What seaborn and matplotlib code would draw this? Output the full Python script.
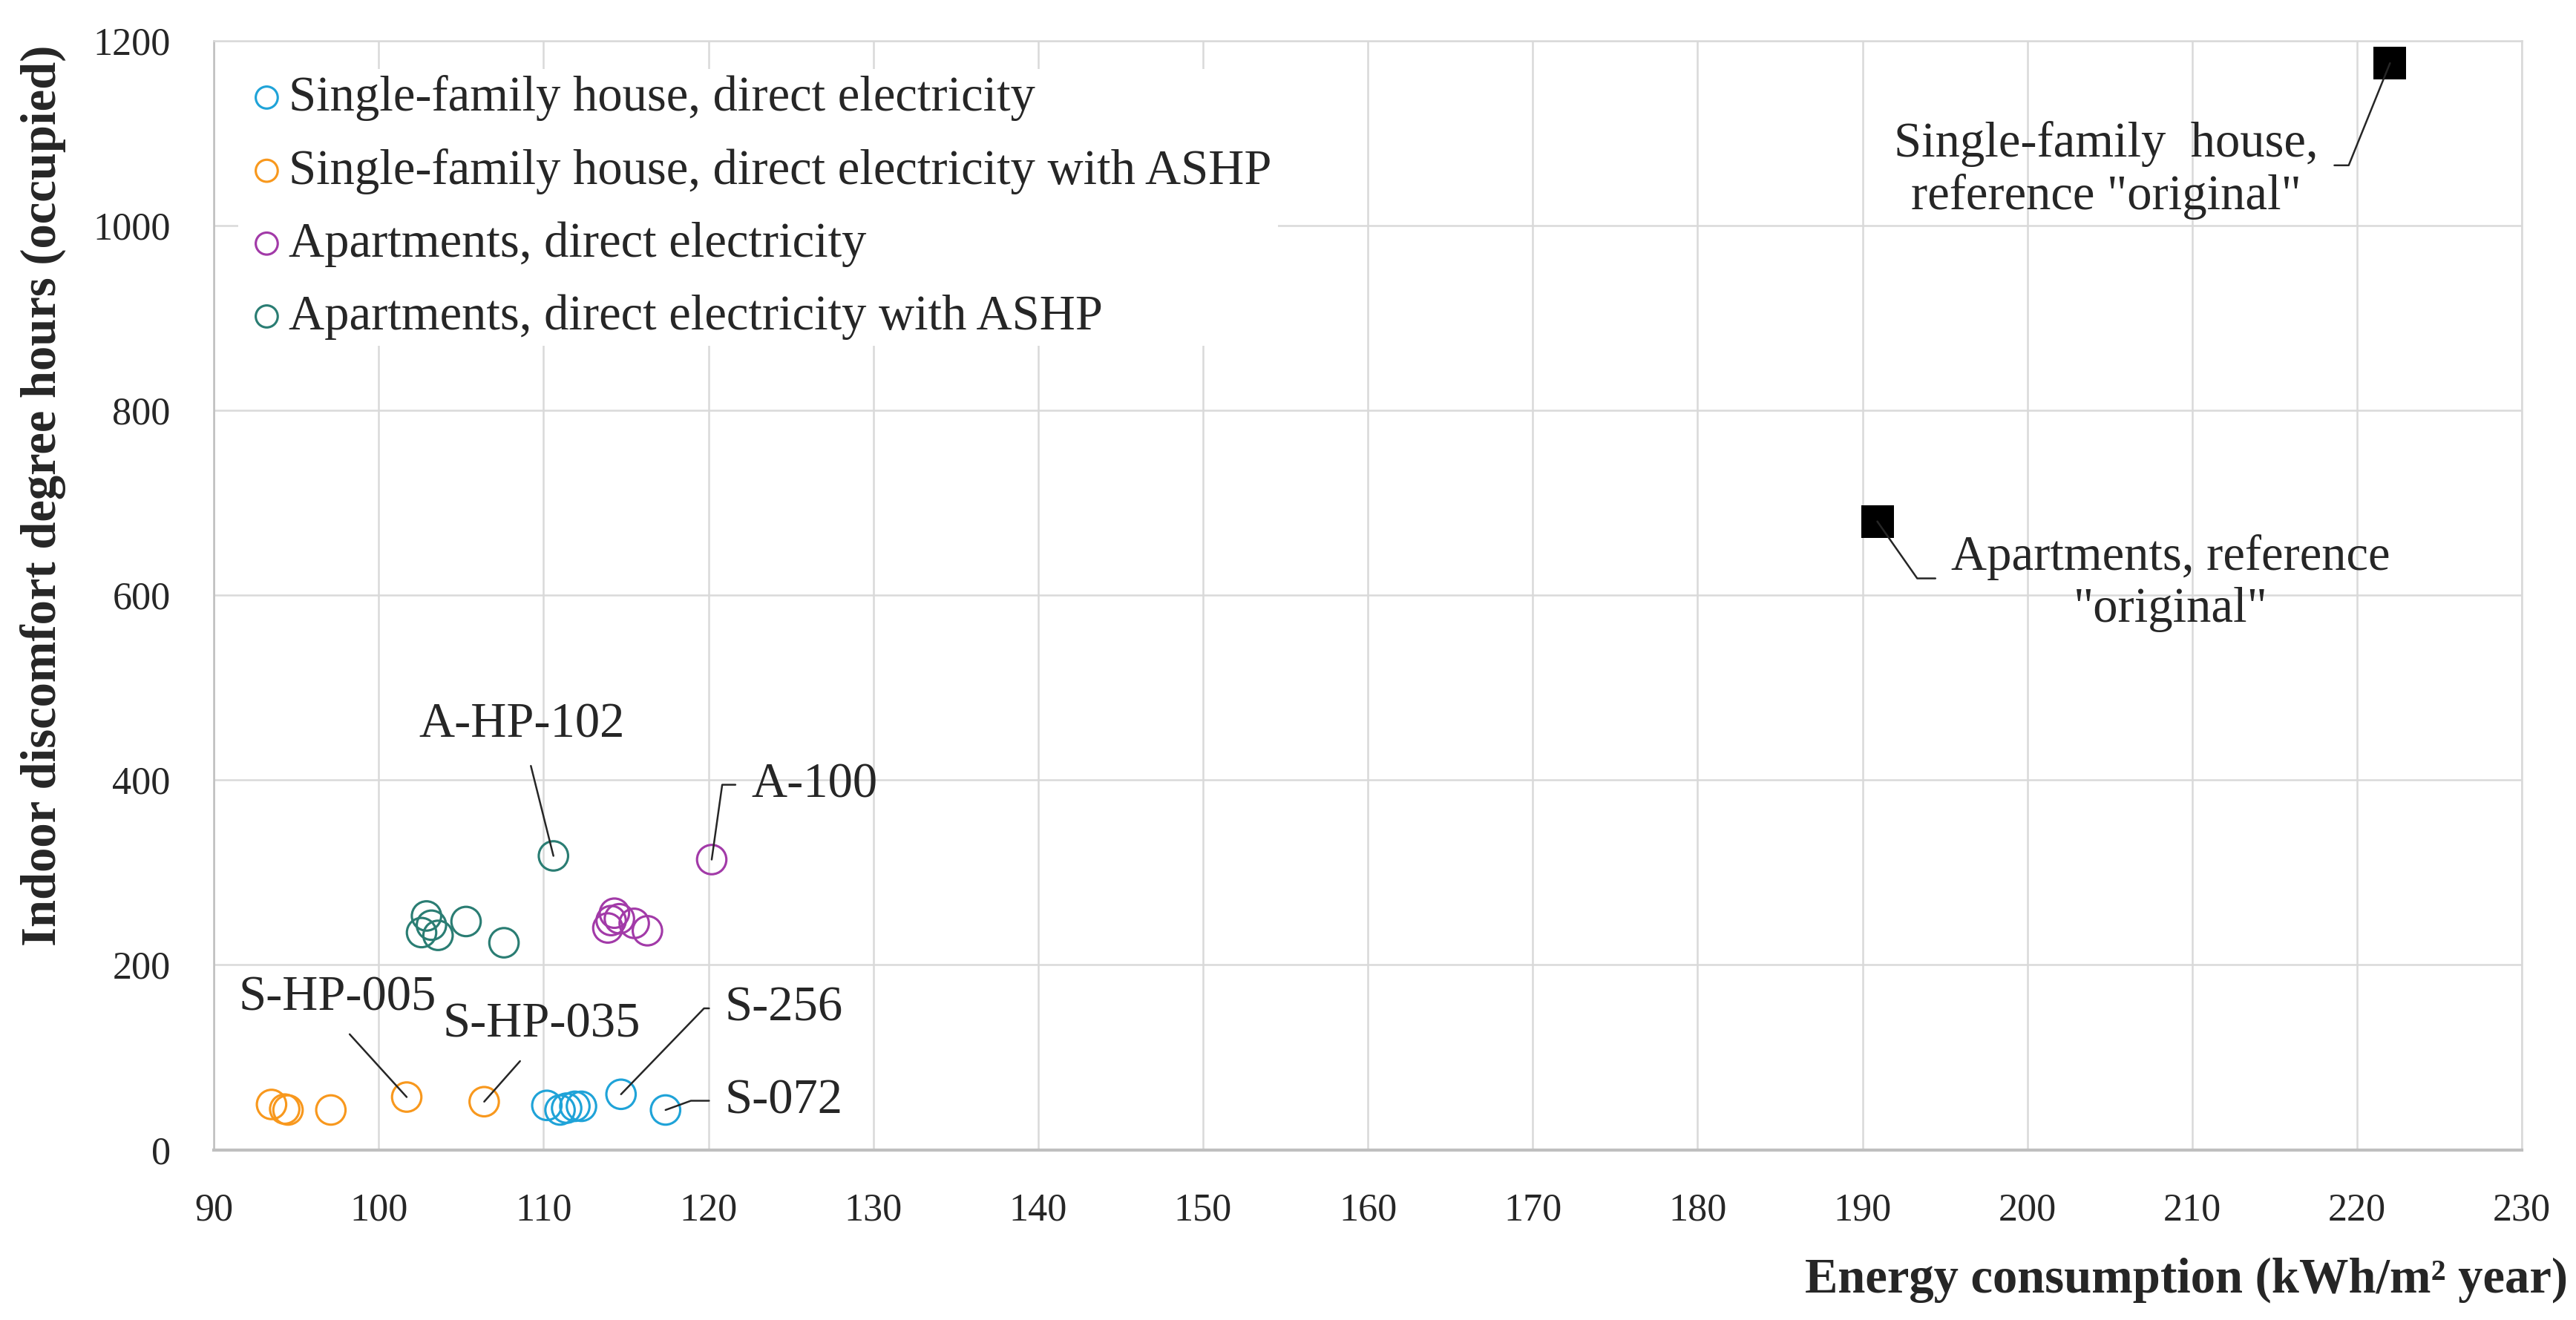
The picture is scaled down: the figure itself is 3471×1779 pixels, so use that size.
import pandas as pd
import seaborn as sns
import matplotlib.pyplot as plt

# ---------------------------------------------------------
# Data
# ---------------------------------------------------------
sf_direct_x = [110.2, 111.0, 111.4, 111.9, 112.3, 114.7, 117.4]
sf_direct_y = [48, 43, 45, 47, 47, 60, 43]

sf_ashp_x = [93.5, 94.3, 94.5, 97.1, 101.7, 106.4]
sf_ashp_y = [49, 44, 43, 43, 57, 52]

ap_direct_x = [113.9, 114.1, 114.3, 114.6, 115.5, 116.3, 120.2]
ap_direct_y = [240, 248, 256, 250, 245, 237, 314]

ap_ashp_x = [102.6, 102.9, 103.2, 103.6, 105.3, 107.6, 110.6]
ap_ashp_y = [235, 253, 243, 232, 247, 224, 318]

ref_x = [222.0, 190.9]
ref_y = [1176, 680]

series_names = [
    "Single-family house, direct electricity",
    "Single-family house, direct electricity with ASHP",
    "Apartments, direct electricity",
    "Apartments, direct electricity with ASHP",
]
series_colors = ["#1fa3d8", "#f8981d", "#a23aa8", "#2a7d73"]

x_ticks = list(range(90, 231, 10))
y_ticks = list(range(0, 1201, 200))

# ---------------------------------------------------------
# Figure
# ---------------------------------------------------------
sns.set_style("white")
plt.rcParams["font.family"] = ["Liberation Serif", "DejaVu Serif"]

fig = plt.figure(figsize=(3471 / 300, 1779 / 300), dpi=300)
ax = fig.add_axes([0.083, 0.129, 0.896, 0.840])

groups = [
    (sf_direct_x, sf_direct_y),
    (sf_ashp_x, sf_ashp_y),
    (ap_direct_x, ap_direct_y),
    (ap_ashp_x, ap_ashp_y),
]
for (gx, gy), name, col in zip(groups, series_names, series_colors):
    df = pd.DataFrame({"x": gx, "y": gy})
    sns.scatterplot(data=df, x="x", y="y", ax=ax, color=col, facecolor="none",
                    edgecolor=col, s=90, linewidth=0.75, marker="o", label=name,
                    zorder=3)

ref_df = pd.DataFrame({"x": ref_x, "y": ref_y})
sns.scatterplot(data=ref_df, x="x", y="y", ax=ax, color="black", marker="s",
                s=115, linewidth=0, legend=False, zorder=3)

ax.set_xlim(90, 230)
ax.set_ylim(0, 1200)
ax.set_xticks(x_ticks)
ax.set_yticks(y_ticks)
ax.grid(True, color="#d9d9d9", linewidth=0.6)
ax.tick_params(axis="both", length=0, pad=14, labelsize=12.5, colors="#262626")
for side, sp in ax.spines.items():
    sp.set_color("#d9d9d9")
    sp.set_linewidth(0.6)
ax.spines["bottom"].set_color("#bfbfbf")
ax.spines["bottom"].set_linewidth(1.0)
ax.spines["left"].set_color("#bfbfbf")

ax.set_xlabel("Energy consumption (kWh/m² year)", fontsize=16,
              fontweight="bold", loc="right")
ax.xaxis.set_label_coords(1.02, -0.097)
ax.set_ylabel("Indoor discomfort degree hours (occupied)", fontsize=16,
              fontweight="bold")
ax.yaxis.set_label_coords(-0.064, 0.59)

leg = ax.legend(loc="upper left", bbox_to_anchor=(0.0, 0.997), fontsize=16,
                frameon=True, framealpha=1, facecolor="white", edgecolor="none",
                handletextpad=0.0, handlelength=0.9, labelspacing=0.55,
                markerscale=0.75, borderpad=0.12)

# ---------------------------------------------------------
# Leader-line labels
# ---------------------------------------------------------
line_kw = dict(arrowstyle="-", color="#262626", lw=0.6, shrinkB=0)
fs = 16

ax.annotate("S-HP-005", xy=(101.7, 57), xytext=(97.5, 164), fontsize=fs,
            ha="center", va="center",
            arrowprops=dict(**line_kw, relpos=(0.5, 0.0), shrinkA=3))
ax.annotate("S-HP-035", xy=(106.4, 52), xytext=(109.9, 135), fontsize=fs,
            ha="center", va="center",
            arrowprops=dict(**line_kw, relpos=(0.45, 0.0), shrinkA=3))
ax.annotate("S-256", xy=(114.7, 60), xytext=(121.0, 153), fontsize=fs,
            ha="left", va="center",
            arrowprops=dict(**line_kw, relpos=(0.0, 0.5), shrinkA=3,
                            connectionstyle="angle,angleA=0,angleB=46,rad=0"))
ax.annotate("S-072", xy=(117.4, 43), xytext=(121.0, 53), fontsize=fs,
            ha="left", va="center",
            arrowprops=dict(**line_kw, relpos=(0.0, 0.5), shrinkA=3,
                            connectionstyle="angle,angleA=0,angleB=20,rad=0"))
ax.annotate("A-HP-102", xy=(110.6, 318), xytext=(108.7, 460), fontsize=fs,
            ha="center", va="center",
            arrowprops=dict(**line_kw, relpos=(0.52, 0.0), shrinkA=4))
ax.annotate("A-100", xy=(120.2, 314), xytext=(122.6, 395), fontsize=fs,
            ha="left", va="center",
            arrowprops=dict(**line_kw, relpos=(0.0, 0.5), shrinkA=3,
                            connectionstyle="angle,angleA=0,angleB=82,rad=0"))
ax.annotate('Single-family  house,\nreference "original"', xy=(222.0, 1176),
            xytext=(204.8, 1060), fontsize=fs, ha="center", va="center",
            multialignment="center", linespacing=1.2,
            arrowprops=dict(**line_kw, relpos=(1.0, 0.55), shrinkA=3,
                            connectionstyle="angle,angleA=0,angleB=68,rad=0"))
ax.annotate('Apartments, reference\n"original"', xy=(190.9, 680),
            xytext=(208.7, 613), fontsize=fs, ha="center", va="center",
            multialignment="center", linespacing=1.2,
            arrowprops=dict(**line_kw, relpos=(0.0, 0.55), shrinkA=3,
                            connectionstyle="angle,angleA=0,angleB=-55,rad=0"))

fig.savefig("out.png", dpi=300, facecolor="white")
